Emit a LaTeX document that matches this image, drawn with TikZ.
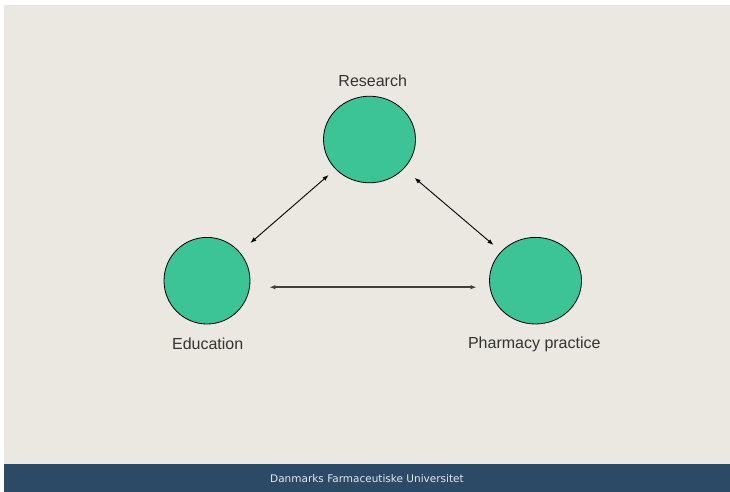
\documentclass[tikz,border=0pt]{standalone}
\usepackage{fontspec}
\setmainfont{Liberation Sans}
\newfontfamily\barfont{DejaVu Sans}
\usepackage{tikz}
\usetikzlibrary{shapes.geometric,arrows.meta}

\definecolor{bgbeige}{HTML}{EBE8E1}
\definecolor{ballgreen}{HTML}{3CC497}
\definecolor{barblue}{HTML}{2C4A65}
\definecolor{labelgray}{HTML}{333333}
\definecolor{bartext}{HTML}{E4E9EE}

\tikzset{
	ball/.style={shape=ellipse,draw=black,line width=0.8pt,fill=ballgreen,inner sep=0pt,minimum width=92pt,minimum height=86.6pt},
	lbl/.style={inner sep=0pt,text=labelgray,font=\fontsize{16}{18}\selectfont},
	link/.style={{Latex[length=6pt,width=4.5pt]}-{Latex[length=6pt,width=4.5pt]},line width=0.9pt}
}

\begin{document}
\begin{tikzpicture}[x=1pt,y=-1pt]
	
	\fill[white] (0,0) rectangle (730,492);
	\fill[bgbeige] (4,5) rectangle (730,464);
	\fill[barblue] (4,464) rectangle (730,492);
	\useasboundingbox (0,0) rectangle (730,492);
	
	\node[ball] (res) at (369.5, 139.5)     {};
	\node[ball,minimum width=86pt] (edu) at (207, 280.7)     {};
	\node[ball] (phar) at (535.5, 280.7)     {};
	
	\node[lbl] (reslbl) at (372.7, 80.7)     {Research};
	\node[lbl] (edulbl) at (207.7, 344.2)     {Education};
	\node[lbl] (pharlbl) at (534.3, 344.5)     {Pharmacy practice};
	
	\node[inner sep=0pt,text=bartext,font=\barfont\fontsize{10.5}{12}\selectfont] (uni) at (367, 479)     {Danmarks Farmaceutiske Universitet};
	
	\path[link,shorten <=9pt,shorten >=14pt] (res) edge (edu);
	\path[link,shorten <=14pt,shorten >=10pt] (res) edge (phar);
	\draw[link,draw=black!75,line width=1.6pt,shorten <=19pt,shorten >=12.5pt] ([yshift=-6.5pt]edu.east) -- ([yshift=-6.5pt]phar.west);

\end{tikzpicture}
\end{document}
